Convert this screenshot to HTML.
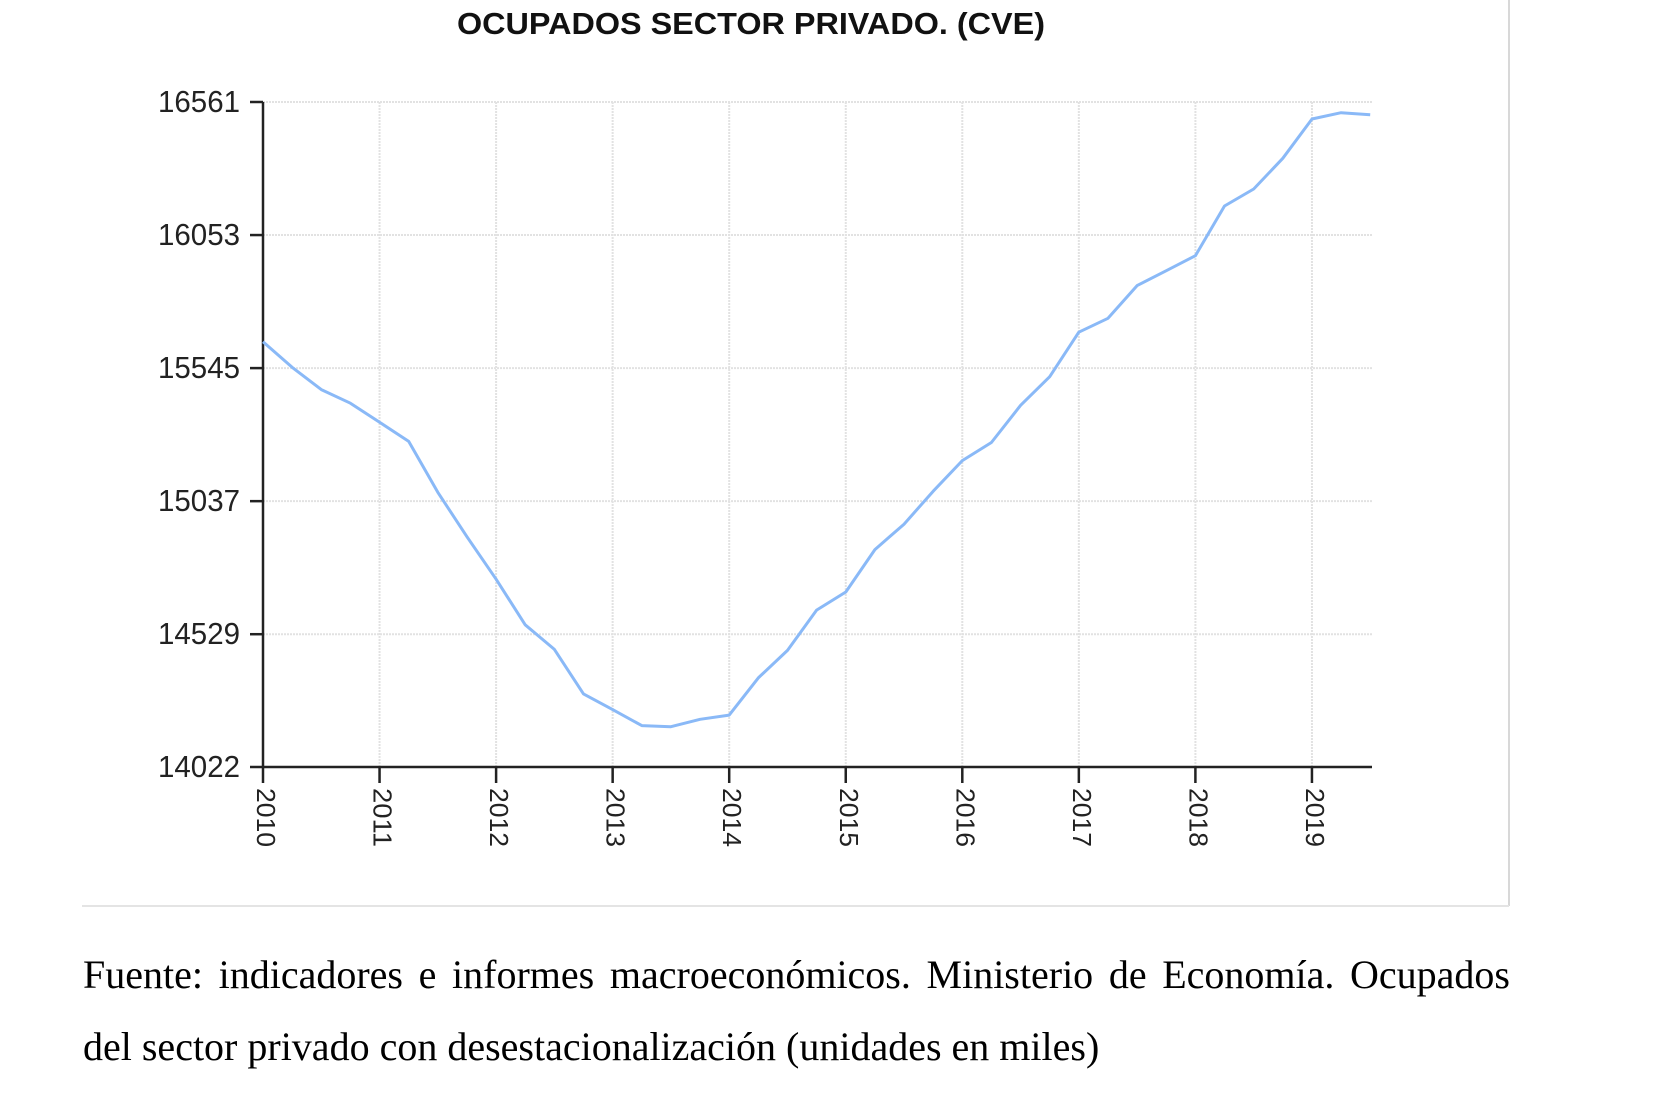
<!DOCTYPE html>
<html><head><meta charset="utf-8"><style>
html,body{margin:0;padding:0;background:#fff;}
body{width:1658px;height:1094px;position:relative;overflow:hidden;}
.cap{position:absolute;left:83px;width:1427px;font-family:"Liberation Serif",serif;font-size:40px;color:#000;line-height:72px;}
</style></head><body>
<svg width="1658" height="930" style="position:absolute;left:0;top:0" xmlns="http://www.w3.org/2000/svg">
<line x1="1509" y1="0" x2="1509" y2="906" stroke="#d8d8d8" stroke-width="2"/>
<line x1="82" y1="906" x2="1509" y2="906" stroke="#e4e4e4" stroke-width="2"/>
<text x="457" y="34" font-family="Liberation Sans, sans-serif" font-weight="bold" font-size="31" fill="#111" textLength="588" lengthAdjust="spacingAndGlyphs">OCUPADOS SECTOR PRIVADO. (CVE)</text>
<g id="grid"></g>
<g id="axes"></g>
<polyline id="series" fill="none" stroke="#8ab9f7" stroke-width="3" stroke-linejoin="round"/>
</svg>
<div class="cap" style="top:939px;text-align:justify;text-align-last:justify;">Fuente: indicadores e informes macroeconómicos. Ministerio de Economía. Ocupados</div>
<div class="cap" style="top:1011px;">del sector privado con desestacionalización (unidades en miles)</div>
<script>
const yTicks = [14022, 14529, 15037, 15545, 16053, 16561];
const years = ['2010','2011','2012','2013','2014','2015','2016','2017','2018','2019'];
const values = [15646,15548,15463,15411,15338,15265,15071,14901,14739,14565,14471,14301,14241,14180,14176,14204,14220,14362,14467,14621,14690,14852,14949,15075,15192,15261,15403,15512,15682,15735,15860,15917,15974,16164,16229,16346,16496,16520,16512];
const NS='http://www.w3.org/2000/svg';
const X0=263, YW=116.55, PR=1372, YT=102, YB=767, VMIN=14022, VMAX=16561;
function xs(q){return X0+q*YW/4;}
function ys(v){return YB-(v-VMIN)/(VMAX-VMIN)*(YB-YT);}
function mk(tag,attrs,parent){const e=document.createElementNS(NS,tag);for(const k in attrs)e.setAttribute(k,attrs[k]);parent.appendChild(e);return e;}
const grid=document.getElementById('grid'), axes=document.getElementById('axes');
yTicks.forEach(v=>{
  const y=ys(v);
  const g=mk('line',{x1:X0,y1:y,x2:PR,y2:y,stroke:'#e2e2e2','stroke-width':2,'stroke-dasharray':'2 1'},grid);
  
  
  const t=mk('line',{x1:250,y1:y,x2:X0,y2:y,stroke:'#222','stroke-width':2.5},axes);
  
  
  const l=mk('text',{x:240,y:y+10,'text-anchor':'end','font-family':'Liberation Sans, sans-serif','font-size':31,fill:'#222',textLength:82,lengthAdjust:'spacingAndGlyphs'},axes);
  l.textContent=v;
  
  
});
years.forEach((yr,i)=>{
  const x=xs(i*4);
  if(i>0){const g=mk('line',{x1:x,y1:YT,x2:x,y2:YB,stroke:'#e2e2e2','stroke-width':2,'stroke-dasharray':'2 1'},grid);
  
  }
  const t=mk('line',{x1:x,y1:YB,x2:x,y2:783,stroke:'#222','stroke-width':2.5},axes);
  
  
  const l=mk('text',{x:0,y:0,transform:`translate(${x-6},788) rotate(90)`,'font-family':'Liberation Sans, sans-serif','font-size':26,fill:'#222',textLength:59,lengthAdjust:'spacingAndGlyphs'},axes);
  l.textContent=yr;
  
  
});
const ya=mk('line',{x1:X0,y1:YT,x2:X0,y2:YB,stroke:'#222','stroke-width':2.5},axes);


const xa=mk('line',{x1:X0,y1:YB,x2:PR,y2:YB,stroke:'#222','stroke-width':2.5},axes);


document.getElementById('series').setAttribute('points',values.map((v,i)=>xs(i).toFixed(1)+','+ys(v).toFixed(1)).join(' '));
</script>
</body></html>
